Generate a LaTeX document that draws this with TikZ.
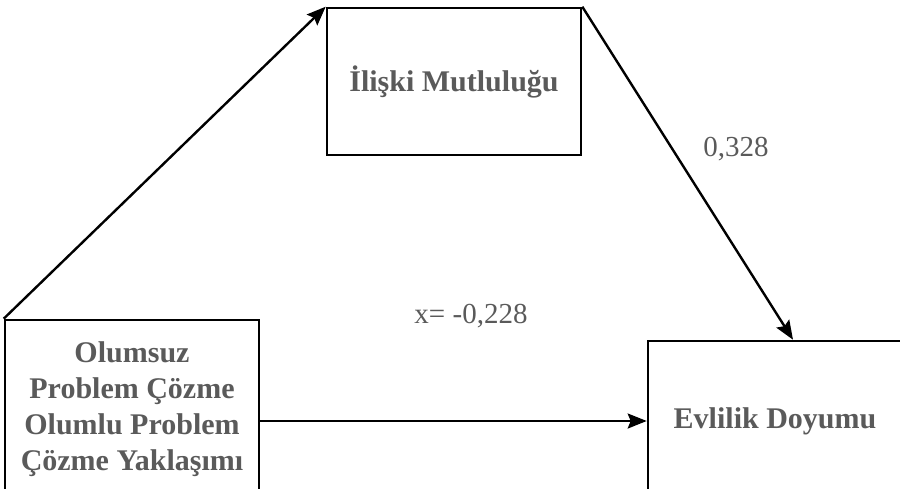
\documentclass[tikz,border=0pt]{standalone}
\usepackage{fontspec}
\setmainfont{Liberation Serif}
\usetikzlibrary{arrows.meta}
\definecolor{textgray}{HTML}{5A5A5A}
\tikzstyle{factor}=[rectangle, draw, line width=2.6pt, minimum width=254pt, text=textgray, font=\fontsize{30}{36}\selectfont\bfseries, align=center, inner sep=0pt]
\tikzstyle{path}=[line width=2.4pt, -{Stealth[length=19pt, width=15pt, inset=3pt]}]
\tikzstyle{coef}=[text=textgray, font=\fontsize{29}{30}\selectfont]

\begin{document}
\begin{tikzpicture}[x=1pt, y=-1pt]
    \useasboundingbox (0, 0) rectangle (900, 488);
    \clip (0, 0) rectangle (900, 488);
    \node[factor, minimum height=178pt] (pred) at (132, 409) {Olumsuz\\Problem Çözme\\Olumlu Problem\\Çözme Yaklaşımı};
    \node[factor, minimum height=147pt] (med) at (454, 81.5) {İlişki Mutluluğu};
    \node[factor, minimum height=160pt] (out) at (775, 421) {Evlilik Doyumu};
    \node[coef] (b) at (736, 149) {0,328};
    \node[coef] (c) at (471, 316) {x= -0,228};
    \draw[path] (pred.north west) -- (med.north west);
    \draw[path] (med.north east) -- ([xshift=18pt]out.north);
    \draw[path] (pred.east |- out.west) -- (out.west);
\end{tikzpicture}
\end{document}
